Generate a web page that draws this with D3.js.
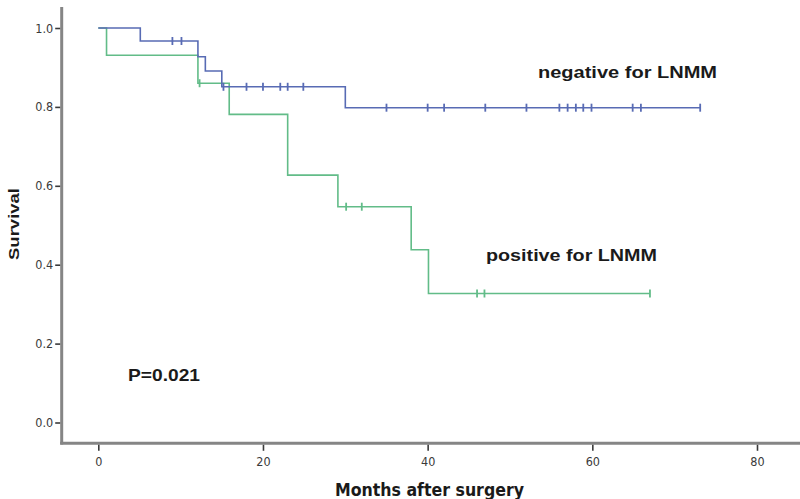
<!DOCTYPE html>
<html>
<head>
<meta charset="utf-8">
<script src="https://cdn.jsdelivr.net/npm/d3@7"></script>
<style>
  html, body { margin: 0; padding: 0; background: #fff; }
  svg { display: block; }
</style>
</head>
<body>
<svg id="chart" width="800" height="499"></svg>
<script>
// ---- Data ----
const xTicks = [0, 20, 40, 60, 80];
const yTicks = [0.0, 0.2, 0.4, 0.6, 0.8, 1.0];

// negative for LNMM: step times and survival after each step
const negStepTimes  = [0, 5.1, 12.1, 13.0, 15.0, 30.0];
const negStepValues = [1.0, 0.967, 0.927, 0.891, 0.851, 0.798];
const negEndTime = 73.1;
const negCensorTimes  = [9.0, 10.1, 15.2, 18.0, 20.0, 22.1, 23.0, 24.9, 35.0, 40.0, 42.0, 47.0, 52.0, 56.0, 57.0, 58.0, 58.9, 59.9, 64.9, 65.9, 73.1];

// positive for LNMM
const posStepTimes  = [0, 1.0, 12.1, 15.9, 23.0, 29.1, 38.0, 40.1];
const posStepValues = [1.0, 0.931, 0.86, 0.781, 0.627, 0.547, 0.438, 0.327];
const posEndTime = 67.0;
const posCensorTimes = [12.3, 30.1, 32.0, 46.0, 46.9, 67.0];

const labels = {
  neg: "negative for LNMM",
  pos: "positive for LNMM",
  p: "P=0.021",
  x: "Months after surgery",
  y: "Survival"
};

// ---- Scales ----
const svg = d3.select("#chart");
const x = d3.scaleLinear().domain([0, 80]).range([98.3, 757]);
const y = d3.scaleLinear().domain([0, 1]).range([422.5, 28]);

function survivalAt(times, values, t) {
  let v = values[0];
  for (let i = 0; i < times.length; i++) if (times[i] <= t) v = values[i];
  return v;
}
function stepPoints(times, values, end) {
  const pts = times.map((t, i) => [t, values[i]]);
  pts.push([end, values[values.length - 1]]);
  return pts;
}

const line = d3.line().x(d => x(d[0])).y(d => y(d[1])).curve(d3.curveStepAfter);

const tickFont = "'DejaVu Sans Condensed', 'Liberation Sans Narrow', 'Liberation Sans', Arial, sans-serif";
const boldFont = "'Liberation Sans', Arial, sans-serif";

// ---- Axes ----
const axisColor = "#858585";
svg.append("line").attr("x1", 61.7).attr("x2", 61.7).attr("y1", 7).attr("y2", 444.5)
  .attr("stroke", axisColor).attr("stroke-width", 3);
svg.append("line").attr("x1", 60.2).attr("x2", 800).attr("y1", 443.3).attr("y2", 443.3)
  .attr("stroke", axisColor).attr("stroke-width", 3);

const yAxis = d3.axisLeft(y).tickValues(yTicks).tickFormat(d3.format(".1f")).tickSize(5).tickPadding(2);
const gy = svg.append("g").attr("transform", "translate(60.2,0)").call(yAxis);
gy.select(".domain").remove();
gy.selectAll(".tick line").attr("stroke", "#3a3a3a").attr("stroke-width", 1.6);
gy.selectAll(".tick text").attr("font-family", tickFont).attr("font-size", 12.5).attr("fill", "#3a3a3a");

const xAxis = d3.axisBottom(x).tickValues(xTicks).tickFormat(d3.format("d")).tickSize(6).tickPadding(6);
const gx = svg.append("g").attr("transform", "translate(0,444.8)").call(xAxis);
gx.select(".domain").remove();
gx.selectAll(".tick line").attr("stroke", "#3a3a3a").attr("stroke-width", 1.6);
gx.selectAll(".tick text").attr("font-family", tickFont).attr("font-size", 12.5).attr("fill", "#3a3a3a");

// ---- Curves ----
const series = [
  { times: posStepTimes, values: posStepValues, end: posEndTime, censor: posCensorTimes, color: "#62bc88" },
  { times: negStepTimes, values: negStepValues, end: negEndTime, censor: negCensorTimes, color: "#586bb4" }
];

series.forEach(s => {
  svg.append("path")
    .datum(stepPoints(s.times, s.values, s.end))
    .attr("d", line)
    .attr("fill", "none")
    .attr("stroke", s.color)
    .attr("stroke-width", 1.6);
  svg.append("g").selectAll("line")
    .data(s.censor)
    .join("line")
    .attr("x1", d => x(d)).attr("x2", d => x(d))
    .attr("y1", d => y(survivalAt(s.times, s.values, d)) - 4)
    .attr("y2", d => y(survivalAt(s.times, s.values, d)) + 4)
    .attr("stroke", s.color)
    .attr("stroke-width", 1.8);
});

// ---- Text ----
function addText(txt, cx, cy, size, width, opts = {}) {
  const t = svg.append("text")
    .attr("x", cx).attr("y", cy)
    .attr("font-family", opts.family || boldFont)
    .attr("font-weight", "bold")
    .attr("font-size", size)
    .attr("fill", "#1a1a1a")
    .attr("text-anchor", opts.anchor || "start")
    .attr("dominant-baseline", "central")
    .text(txt);
  if (width) t.attr("textLength", width).attr("lengthAdjust", "spacingAndGlyphs");
  if (opts.rotate) t.attr("transform", `rotate(-90,${cx},${cy})`);
  return t;
}

addText(labels.neg, 538, 72, 16, 179);
addText(labels.pos, 486, 255, 16, 171);
addText(labels.p, 128, 375, 17, 72);
addText(labels.x, 429.5, 490, 17, 189, { anchor: "middle", family: tickFont });
addText(labels.y, 13, 224, 15, 72, { anchor: "middle", rotate: true });
</script>
</body>
</html>
